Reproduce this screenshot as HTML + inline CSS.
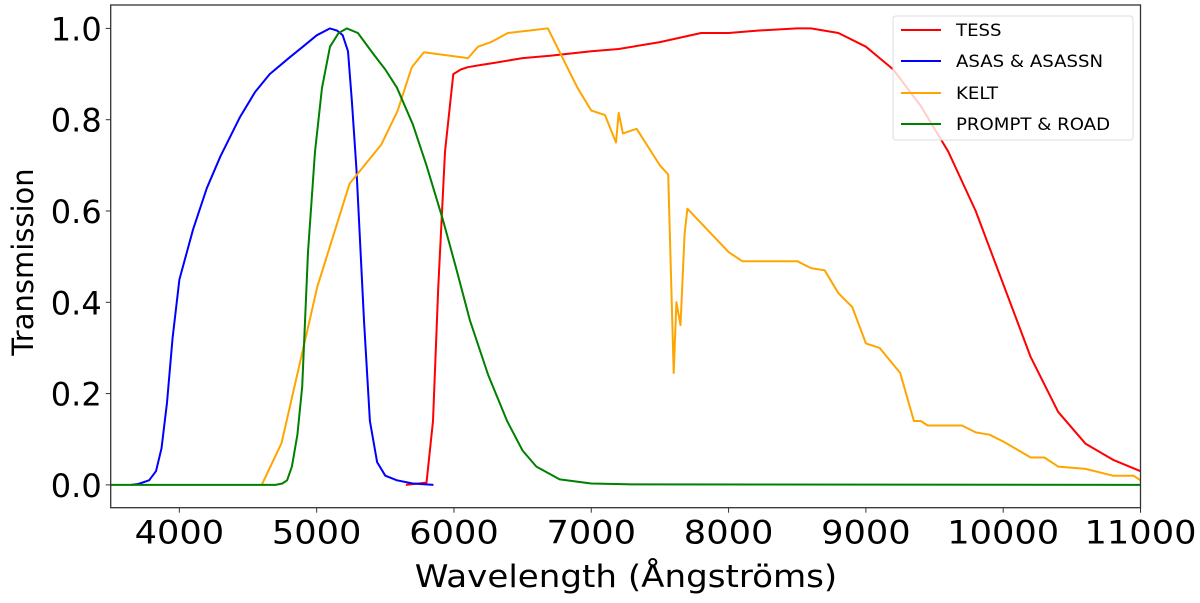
<!DOCTYPE html>
<html><head><meta charset="utf-8"><style>
body{margin:0;background:#fff}
svg{display:block;font-family:"DejaVu Sans","Liberation Sans",sans-serif}
</style></head><body>
<svg id="chart" width="1200" height="603">
<g id="series"></g>
<g id="axes"></g>
<g>
<rect x="893" y="16" width="240" height="124" rx="3" fill="#fff" fill-opacity="0.8" stroke="#ddd"/>
<g><line x1="901" y1="30" x2="941" y2="30" stroke="red" stroke-width="2"/><text transform="translate(956,36) scale(1.1,1)" font-size="16.5">TESS</text></g>
<g><line x1="901" y1="61" x2="941" y2="61" stroke="blue" stroke-width="2"/><text transform="translate(956,67) scale(1.1,1)" font-size="16.5">ASAS &amp; ASASSN</text></g>
<g><line x1="901" y1="93" x2="941" y2="93" stroke="orange" stroke-width="2"/><text transform="translate(956,99) scale(1.1,1)" font-size="16.5">KELT</text></g>
<g><line x1="901" y1="124" x2="941" y2="124" stroke="green" stroke-width="2"/><text transform="translate(956,130) scale(1.1,1)" font-size="16.5">PROMPT &amp; ROAD</text></g>
</g>
<text transform="translate(626,587) scale(1.1,1)" font-size="31" text-anchor="middle">Wavelength (Ångströms)</text>
<text transform="translate(33,262) rotate(-90)" font-size="29" text-anchor="middle">Transmission</text>
</svg>
<script>
const tessX=[5650,5800,5847,5885,5935,5995,6050,6100,6200,6300,6500,6700,7000,7200,7500,7800,8000,8200,8500,8600,8800,9000,9200,9400,9600,9800,10000,10200,10400,10600,10800,11000];
const tessY=[0,0.005,0.14,0.43,0.73,0.9,0.91,0.915,0.92,0.925,0.935,0.94,0.95,0.955,0.97,0.99,0.99,0.995,1.0,1.0,0.99,0.96,0.91,0.83,0.73,0.6,0.44,0.28,0.16,0.09,0.055,0.03];
const asasX=[3650,3700,3780,3830,3870,3910,3950,4000,4100,4200,4300,4440,4550,4658,4805,4900,5000,5097,5150,5190,5228,5257,5290,5345,5388,5440,5500,5585,5700,5850];
const asasY=[0,0.002,0.01,0.03,0.08,0.18,0.32,0.45,0.56,0.65,0.72,0.805,0.86,0.9,0.937,0.96,0.985,1.0,0.995,0.985,0.95,0.84,0.69,0.36,0.14,0.05,0.02,0.01,0.003,0];
const keltX=[4600,4745,5005,5240,5470,5590,5693,5781,6102,6175,6270,6393,6684,6900,7000,7100,7180,7200,7230,7330,7500,7560,7600,7620,7650,7680,7700,8000,8100,8500,8600,8700,8800,8900,9000,9100,9250,9350,9400,9450,9500,9700,9800,9900,10000,10200,10300,10400,10600,10800,10950,11000];
const keltY=[0,0.092,0.434,0.66,0.745,0.82,0.915,0.948,0.935,0.96,0.97,0.99,1.0,0.87,0.82,0.81,0.75,0.815,0.77,0.78,0.7,0.68,0.245,0.4,0.35,0.55,0.605,0.51,0.49,0.49,0.475,0.47,0.42,0.39,0.31,0.3,0.245,0.14,0.14,0.13,0.13,0.13,0.115,0.11,0.095,0.06,0.06,0.04,0.035,0.02,0.02,0.01];
const promptX=[3500,4700,4750,4785,4820,4860,4895,4937,4988,5039,5097,5160,5220,5300,5410,5500,5585,5700,5800,5920,6020,6117,6250,6387,6500,6600,6770,7000,7300,11000];
const promptY=[0,0,0.003,0.01,0.04,0.11,0.215,0.51,0.73,0.87,0.96,0.99,1.0,0.99,0.945,0.91,0.87,0.79,0.7,0.58,0.47,0.36,0.24,0.14,0.075,0.04,0.012,0.003,0.001,0];
const xTicks=[4000,5000,6000,7000,8000,9000,10000,11000];
const yTicks=[0,0.2,0.4,0.6,0.8,1.0];
const yLabels=["0.0","0.2","0.4","0.6","0.8","1.0"];

const L=110.7,R=1140.5,T=5,B=507.7;
const xMin=3500,xMax=11000,yMin=-0.05,yMax=1.0513;
const sx=v=>L+(v-xMin)/(xMax-xMin)*(R-L);
const sy=v=>B-(v-yMin)/(yMax-yMin)*(B-T);
const NS="http://www.w3.org/2000/svg";
const sg=document.getElementById('series'),ag=document.getElementById('axes');
function line(xs,ys,color,name){
  const p=document.createElementNS(NS,'polyline');
  p.setAttribute('points',xs.map((x,i)=>sx(x).toFixed(1)+','+sy(ys[i]).toFixed(1)).join(' '));
  p.setAttribute('fill','none');p.setAttribute('stroke',color);p.setAttribute('stroke-width','2');
  p.setAttribute('stroke-linejoin','round');
  
  
  sg.appendChild(p);
}
line(tessX,tessY,'red','tess-line');
line(asasX,asasY,'blue','asas-line');
line(keltX,keltY,'orange','kelt-line');
line(promptX,promptY,'green','prompt-line');
const frame=document.createElementNS(NS,'rect');
frame.setAttribute('x',L);frame.setAttribute('y',T);frame.setAttribute('width',R-L);frame.setAttribute('height',B-T);
frame.setAttribute('fill','none');frame.setAttribute('stroke','#333');frame.setAttribute('stroke-width','1.3');


ag.appendChild(frame);
xTicks.forEach(v=>{
  const t=document.createElementNS(NS,'line');
  t.setAttribute('x1',sx(v));t.setAttribute('x2',sx(v));t.setAttribute('y1',B);t.setAttribute('y2',B+5);t.setAttribute('stroke','#333');
  
  
  ag.appendChild(t);
  const tx=document.createElementNS(NS,'text');
  tx.setAttribute('transform','translate('+sx(v)+','+(B+36)+') scale(1.1,1)');
  tx.setAttribute('font-size','32');tx.setAttribute('text-anchor','middle');
  tx.textContent=v;
  
  
  ag.appendChild(tx);
});
yTicks.forEach((v,i)=>{
  const t=document.createElementNS(NS,'line');
  t.setAttribute('x1',L-5);t.setAttribute('x2',L);t.setAttribute('y1',sy(v));t.setAttribute('y2',sy(v));t.setAttribute('stroke','#333');
  
  
  ag.appendChild(t);
  const tx=document.createElementNS(NS,'text');
  tx.setAttribute('x',L-9);tx.setAttribute('y',sy(v)+12);tx.setAttribute('font-size','32');tx.setAttribute('text-anchor','end');
  tx.textContent=yLabels[i];
  
  
  ag.appendChild(tx);
});
</script>
</body></html>
